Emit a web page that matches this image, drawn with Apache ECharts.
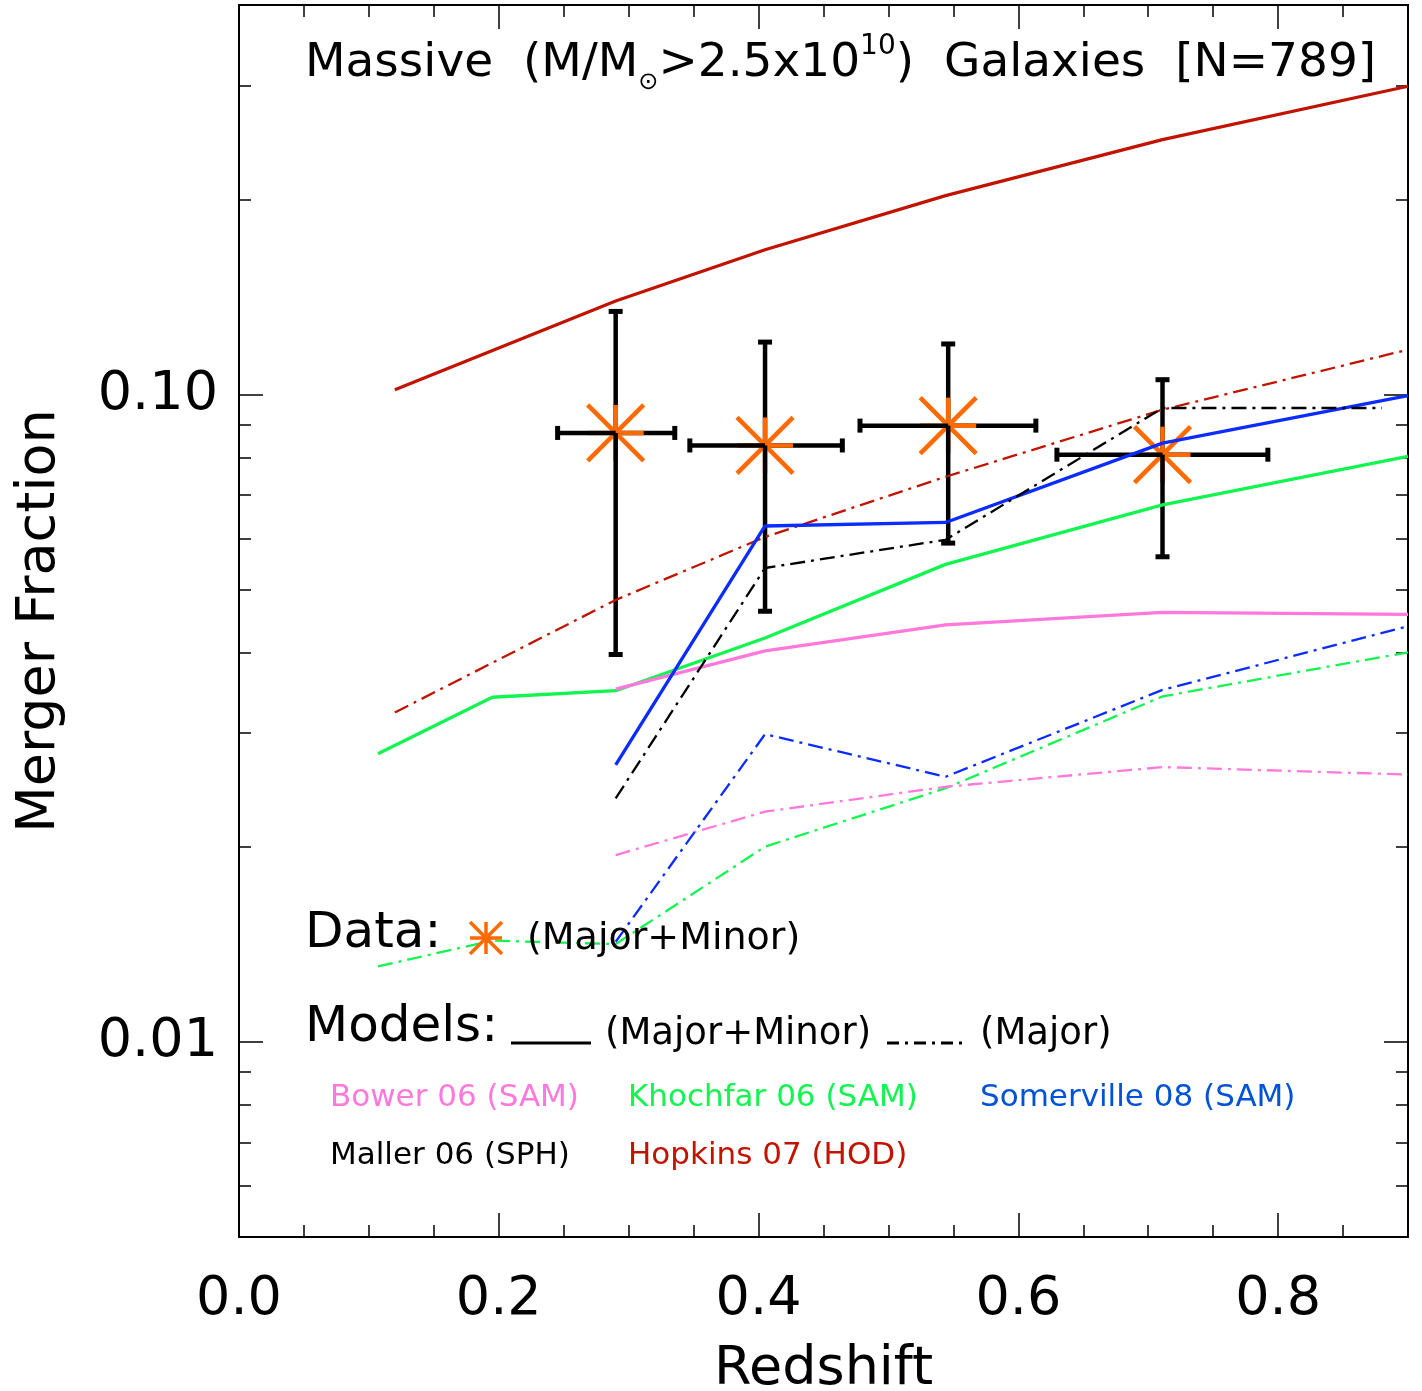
<!DOCTYPE html>
<html><head><meta charset="utf-8">
<script src="https://cdn.jsdelivr.net/npm/echarts@6/dist/echarts.min.js"></script>
<style>html,body{margin:0;padding:0;background:#fff}#c{width:1422px;height:1391px}</style>
</head><body><div id="c"></div>
<script>
// ---- Data ----
const dataZ        = [0.29, 0.405, 0.546, 0.711];
const dataFrac     = [0.0873, 0.0835, 0.0896, 0.0808];
const dataZLow     = [0.2453, 0.3471, 0.4781, 0.6297];
const dataZHigh    = [0.3355, 0.4645, 0.6135, 0.7921];
const dataFracLow  = [0.0397, 0.0463, 0.0590, 0.0562];
const dataFracHigh = [0.1345, 0.1206, 0.1198, 0.1055];

const hopkinsZ     = [0.12, 0.29, 0.405, 0.544, 0.711, 0.9];
const hopkinsAll   = [0.1018, 0.1396, 0.1675, 0.2030, 0.2478, 0.2996];
const hopkinsMajor = [0.0323, 0.0482, 0.0603, 0.0747, 0.0948, 0.1174];

const khochfarZ     = [0.107, 0.195, 0.29, 0.405, 0.544, 0.711, 0.9];
const khochfarAll   = [0.0279, 0.0341, 0.0349, 0.0421, 0.0547, 0.0676, 0.0803];
const khochfarMajor = [0.01309, 0.01435, 0.01417, 0.02004, 0.02467, 0.0342, 0.0400];

const modelZ          = [0.29, 0.405, 0.544, 0.711, 0.9];
const bowerAll        = [0.0351, 0.0402, 0.0441, 0.0461, 0.0458];
const bowerMajor      = [0.01945, 0.0227, 0.0248, 0.0266, 0.0259];
const somervilleAll   = [0.0268, 0.0627, 0.0635, 0.0842, 0.0997];
const somervilleMajor = [0.01429, 0.0299, 0.0257, 0.0350, 0.0439];

const mallerZ     = [0.29, 0.405, 0.544, 0.711, 0.88];
const mallerMajor = [0.0238, 0.0540, 0.0597, 0.0954, 0.0954];

const yMajorTicks = [0.01, 0.1];
const yMinorTicks = [0.006, 0.007, 0.008, 0.009, 0.02, 0.03, 0.04, 0.05, 0.06, 0.07, 0.08, 0.09, 0.2, 0.3];

// ---- Styles ----
const FONT = 'DejaVu Sans';
const COL = {
  pink: '#ff78dc', green: '#12f550', blueLine: '#0a2cff', blueText: '#0052d6',
  red: '#c01400', orange: '#ff6a00', black: '#000000'
};
const DASHDOT = [15, 6, 3, 6];
const pair = (xs, ys) => xs.map((x, i) => [x, ys[i]]);

function lineSeries(name, xs, ys, color, dashed) {
  return {
    name, type: 'line', data: pair(xs, ys), showSymbol: false, symbol: 'none',
    silent: true, z: 3,
    lineStyle: { color, width: dashed ? 2.3 : 3.3, type: dashed ? DASHDOT : 'solid' }
  };
}

const errData = dataZ.map((z, i) => [z, dataFrac[i], dataZLow[i], dataZHigh[i], dataFracLow[i], dataFracHigh[i]]);

function renderErr(params, api) {
  const c = api.coord([api.value(0), api.value(1)]);
  const xl = api.coord([api.value(2), api.value(1)])[0];
  const xh = api.coord([api.value(3), api.value(1)])[0];
  const yl = api.coord([api.value(0), api.value(4)])[1];
  const yh = api.coord([api.value(0), api.value(5)])[1];
  const bar = { stroke: '#000', lineWidth: 4.5 };
  const cap = { stroke: '#000', lineWidth: 5 };
  const star = { stroke: COL.orange, lineWidth: 4.5 };
  const L = (x1, y1, x2, y2, style) => ({ type: 'line', shape: { x1, y1, x2, y2 }, style });
  const s = 28, cw = 7;
  return {
    type: 'group',
    children: [
      L(c[0], c[1], c[0], yh, bar), L(c[0] - cw, yh, c[0] + cw, yh, cap),
      L(c[0], c[1], xh, c[1], bar), L(xh, c[1] - cw, xh, c[1] + cw, cap),
      L(c[0] - s, c[1], c[0] + s, c[1], star), L(c[0], c[1] - s, c[0], c[1] + s, star),
      L(c[0] - s, c[1] - s, c[0] + s, c[1] + s, star), L(c[0] - s, c[1] + s, c[0] + s, c[1] - s, star),
      L(c[0], c[1], c[0], yl, bar), L(c[0] - cw, yl, c[0] + cw, yl, cap),
      L(c[0], c[1], xl, c[1], bar), L(xl, c[1] - cw, xl, c[1] + cw, cap)
    ]
  };
}

const axisLine = { show: true, lineStyle: { color: '#000', width: 2 } };
const tickStyle = { color: '#000', width: 1.5 };

function xAx(pos, labels) {
  return {
    type: 'value', position: pos, min: 0, max: 0.9, interval: 0.2,
    axisLine, splitLine: { show: false },
    axisTick: { show: true, inside: true, length: 24, lineStyle: tickStyle },
    minorTick: { show: true, splitNumber: 4, length: 12, lineStyle: tickStyle },
    axisLabel: labels ? {
      show: true, fontSize: 54, fontFamily: FONT, color: '#000', margin: 36,
      showMaxLabel: false, formatter: v => v.toFixed(1)
    } : { show: false },
    name: labels ? 'Redshift' : '', nameLocation: 'middle', nameGap: 106,
    nameTextStyle: { fontSize: 54, fontFamily: FONT, color: '#000' }
  };
}
function yAx(pos, major, labels) {
  const vals = major ? yMajorTicks : yMinorTicks;
  return {
    type: 'log', logBase: 10, position: pos, min: 0.005, max: 0.4,
    axisLine, splitLine: { show: false }, minorTick: { show: false },
    axisTick: { show: true, inside: true, length: major ? 24 : 12, lineStyle: tickStyle, customValues: vals },
    axisLabel: labels ? {
      show: true, fontSize: 54, fontFamily: FONT, color: '#000', margin: 21,
      customValues: yMajorTicks, formatter: v => Number(v).toFixed(2),
      padding: [6, 0, 0, 0]
    } : { show: false },
    name: labels ? 'Merger Fraction' : '', nameLocation: 'middle', nameGap: 172, nameRotate: 90,
    nameTextStyle: { fontSize: 54, fontFamily: FONT, color: '#000' }
  };
}

const txt = (x, y, text, size, color) => ({
  type: 'text', x, y, silent: true, z: 10,
  style: { text, fill: color, fontSize: size, fontFamily: FONT,
    align: 'left', verticalAlign: 'middle', textAlign: 'left', textVerticalAlign: 'middle' }
});
const gline = (x1, y1, x2, y2, stroke, w, dash) => ({
  type: 'line', silent: true, z: 10, shape: { x1, y1, x2, y2 },
  style: { stroke, lineWidth: w, lineDash: dash || null }
});

const legendStarX = 486, legendStarY = 938, ls = 16;

const option = {
  animation: false,
  backgroundColor: '#fff',
  textStyle: { fontFamily: FONT },
  grid: { left: 239, right: 14, top: 5, bottom: 154, containLabel: false, outerBoundsMode: 'none' },
  xAxis: [xAx('bottom', true), xAx('top', false)],
  yAxis: [yAx('left', true, true), yAx('left', false, false), yAx('right', true, false), yAx('right', false, false)],
  series: [
    { type: 'custom', name: 'Data', data: errData, renderItem: renderErr, z: 2, silent: true,
      encode: { x: [0, 2, 3], y: [1, 4, 5] } },
    lineSeries('Hopkins 07 (HOD) all', hopkinsZ, hopkinsAll, COL.red, false),
    lineSeries('Hopkins 07 (HOD) major', hopkinsZ, hopkinsMajor, COL.red, true),
    lineSeries('Khochfar 06 all', khochfarZ, khochfarAll, COL.green, false),
    lineSeries('Khochfar 06 major', khochfarZ, khochfarMajor, COL.green, true),
    lineSeries('Bower 06 all', modelZ, bowerAll, COL.pink, false),
    lineSeries('Bower 06 major', modelZ, bowerMajor, COL.pink, true),
    lineSeries('Somerville 08 all', modelZ, somervilleAll, COL.blueLine, false),
    lineSeries('Somerville 08 major', modelZ, somervilleMajor, COL.blueLine, true),
    lineSeries('Maller 06 major', mallerZ, mallerMajor, COL.black, true)
  ],
  graphic: [
    {
      type: 'text', x: 305, y: 33, silent: true, z: 10,
      style: {
        text: '{m|Massive  (M/M}{sub|⊙}{m|>2.5x10}{sup|10}{m|)  Galaxies  [N=789]}',
        fill: '#000', fontFamily: FONT, fontSize: 47,
        align: 'left', verticalAlign: 'top', textAlign: 'left', textVerticalAlign: 'top',
        rich: {
          m: { fontSize: 47, lineHeight: 62, verticalAlign: 'middle', fontFamily: FONT, fill: '#000' },
          sup: { fontSize: 28, lineHeight: 28, verticalAlign: 'top', fontFamily: FONT, fill: '#000' },
          sub: { fontSize: 24, lineHeight: 22, verticalAlign: 'bottom', fontFamily: FONT, fill: '#000' }
        }
      }
    },
    txt(305, 934, 'Data:', 50, '#000'),
    gline(legendStarX - ls, legendStarY, legendStarX + ls, legendStarY, COL.orange, 3.5),
    gline(legendStarX, legendStarY - ls, legendStarX, legendStarY + ls, COL.orange, 3.5),
    gline(legendStarX - ls, legendStarY - ls, legendStarX + ls, legendStarY + ls, COL.orange, 3.5),
    gline(legendStarX - ls, legendStarY + ls, legendStarX + ls, legendStarY - ls, COL.orange, 3.5),
    txt(527, 939, '(Major+Minor)', 38, '#000'),
    txt(305, 1028, 'Models:', 50, '#000'),
    gline(511, 1043, 591, 1043, '#000', 3),
    txt(605, 1034, '(Major+Minor)', 37, '#000'),
    gline(887, 1043, 967, 1043, '#000', 3, [12, 6, 3, 6]),
    txt(980, 1034, '(Major)', 37, '#000'),
    txt(330, 1098, 'Bower 06 (SAM)', 31, COL.pink),
    txt(628, 1098, 'Khochfar 06 (SAM)', 31, COL.green),
    txt(980, 1098, 'Somerville 08 (SAM)', 31, COL.blueText),
    txt(330, 1156, 'Maller 06 (SPH)', 31, '#000'),
    txt(628, 1156, 'Hopkins 07 (HOD)', 31, COL.red)
  ]
};

const chart = echarts.init(document.getElementById('c'), null, { renderer: 'canvas' });
chart.setOption(option);
</script>
</body></html>
